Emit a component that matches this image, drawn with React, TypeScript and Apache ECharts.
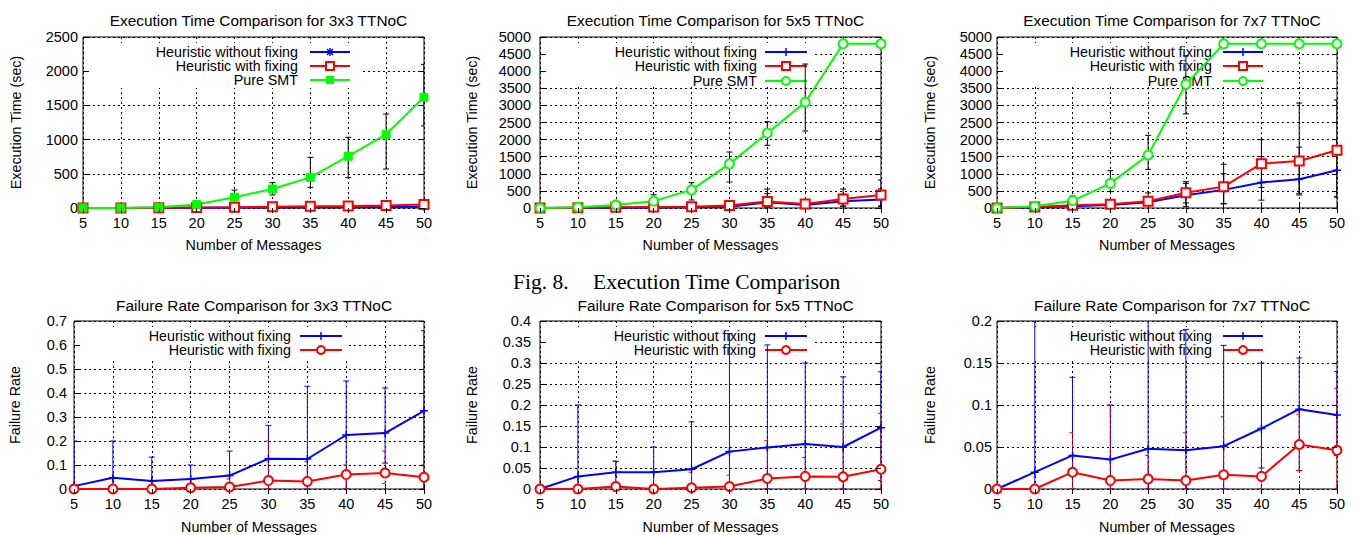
import React, { useEffect, useRef } from "react";
import * as echarts from "echarts";

const FONT = "'Liberation Sans', Arial, Helvetica, sans-serif";
const SERIF = "'Liberation Serif', 'Times New Roman', serif";

const messages = [5, 10, 15, 20, 25, 30, 35, 40, 45, 50];
const nameNoFix = "Heuristic without fixing";
const nameFix = "Heuristic with fixing";
const nameSmt = "Pure SMT";

// Execution time (sec), 3x3
const exec3NoFix = [0, 0, 2, 4, 6, 8, 10, 12, 15, 18];
const exec3Fix = [0, 0, 4, 8, 12, 18, 24, 30, 38, 50];
const exec3Smt = [0, 0, 10, 50, 158, 278, 448, 757, 1078, 1618];
const exec3SmtLow = [null, null, null, 15, 20, 190, 302, 444, 570, 1200];
const exec3SmtHigh = [null, null, null, 100, 262, 370, 741, 1033, 1374, 2100];

// Execution time (sec), 5x5
const exec5NoFix = [0, 5, 10, 15, 20, 40, 165, 90, 200, 250];
const exec5NoFixLow = [null, null, null, null, null, null, 0, null, 40, 40];
const exec5NoFixHigh = [null, null, null, null, null, null, 420, null, 400, 560];
const exec5Fix = [0, 10, 20, 30, 40, 70, 190, 120, 260, 380];
const exec5FixLow = [null, null, null, null, null, null, 0, 0, 60, 60];
const exec5FixHigh = [null, null, null, null, null, null, 555, 250, 555, 820];
const exec5Smt = [0, 20, 90, 200, 530, 1290, 2190, 3090, 4800, 4800];
const exec5SmtLow = [null, null, null, 80, 234, 760, 1833, 2251, null, null];
const exec5SmtHigh = [null, null, null, 390, 740, 1637, 2524, 4210, null, null];

// Execution time (sec), 7x7
const exec7NoFix = [0, 20, 50, 90, 170, 375, 530, 745, 840, 1105];
const exec7NoFixLow = [null, null, null, null, null, 40, 120, 230, 380, 320];
const exec7NoFixHigh = [null, null, null, null, null, 720, 1000, 1500, 1780, 2000];
const exec7Fix = [0, 30, 80, 110, 200, 445, 625, 1295, 1375, 1690];
const exec7FixLow = [null, null, null, 20, 150, 150, 130, 600, 430, 330];
const exec7FixHigh = [null, null, null, 250, 440, 770, 1280, 2000, 3070, 3160];
const exec7Smt = [0, 50, 210, 720, 1550, 3620, 4800, 4800, 4800, 4800];
const exec7SmtLow = [null, null, 100, 480, 1130, 2750, null, null, null, null];
const exec7SmtHigh = [null, null, 350, 1090, 2125, 4450, null, null, null, null];

// Failure rate, 3x3
const fail3NoFix = [0.012, 0.047, 0.033, 0.042, 0.056, 0.126, 0.125, 0.225, 0.233, 0.326];
const fail3NoFixLow = [0, 0, 0, 0, 0, 0, 0, 0, 0.108, 0];
const fail3NoFixHigh = [0.2, 0.2, 0.133, 0.1, 0.158, 0.265, 0.428, 0.45, 0.421, 0.66];
const fail3Fix = [0, 0, 0, 0.005, 0.008, 0.035, 0.031, 0.06, 0.067, 0.049];
const fail3FixLow = [null, null, null, 0, 0, 0, 0, 0, 0.023, 0];
const fail3FixHigh = [null, null, null, 0.04, 0.042, 0.2, 0.115, 0.1, 0.158, 0.1];

// Failure rate, 5x5
const fail5NoFix = [0, 0.03, 0.04, 0.04, 0.047, 0.089, 0.099, 0.107, 0.1, 0.146];
const fail5NoFixLow = [null, 0, 0, 0, 0, 0, 0, 0, 0, 0.02];
const fail5NoFixHigh = [null, 0.2, 0.066, 0.1, 0.16, 0.37, 0.343, 0.3, 0.267, 0.279];
const fail5Fix = [0, 0, 0.006, 0, 0.003, 0.006, 0.025, 0.03, 0.029, 0.047];
const fail5FixLow = [null, null, 0, null, 0, 0, 0, 0, 0, 0];
const fail5FixHigh = [null, null, 0.067, null, 0.04, 0.033, 0.115, 0.075, 0.155, 0.18];

// Failure rate, 7x7
const fail7NoFix = [0, 0.02, 0.04, 0.035, 0.048, 0.046, 0.051, 0.072, 0.095, 0.088];
const fail7NoFixLow = [null, 0, 0, 0, 0, 0, 0, 0.025, 0.022, 0.04];
const fail7NoFixHigh = [null, 0.25, 0.133, 0.1, 0.25, 0.19, 0.171, 0.15, 0.156, 0.14];
const fail7Fix = [0, 0, 0.02, 0.01, 0.012, 0.01, 0.017, 0.015, 0.053, 0.046];
const fail7FixLow = [null, null, 0, 0, 0, 0, 0, 0, 0.022, 0];
const fail7FixHigh = [null, null, 0.067, 0.1, 0.04, 0.067, 0.086, 0.05, 0.089, 0.12];

const BLUE = "#0000ff";
const RED = "#ff0000";
const GREEN = "#00ff00";

type Err = { lo: (number | null)[]; hi: (number | null)[]; color: string; dashed?: boolean };
type SDef = { name: string; values: number[]; color: string; marker: string; err?: Err[] };

const execTitle = "Execution Time Comparison for ";
const failTitle = "Failure Rate Comparison for ";

const TITLE_SIZE = 15.4;
const TEXT_SIZE = 14.3;
const TICK_SIZE = 14.5;

const panels = [
  {
    title: execTitle + "3x3 TTNoC",
    grid: { left: 83, top: 37, width: 341, height: 171 },
    yMax: 2500, yInterval: 500, yName: "Execution Time (sec)", yNameGap: 60, yLabelMargin: 5, titleTop: 8, xNameGap: 30,
    legend: { textRight: 298, x1: 310, x2: 350, rows: [52, 66, 80], boxRight: 360, boxBottom: 88 },
    series: [
      { name: nameNoFix, values: exec3NoFix, color: BLUE, marker: "star" },
      { name: nameFix, values: exec3Fix, color: RED, marker: "emptyRect" },
      { name: nameSmt, values: exec3Smt, color: GREEN, marker: "rect", err: [{ lo: exec3SmtLow, hi: exec3SmtHigh, color: "#000" }] },
    ] as SDef[],
  },
  {
    title: execTitle + "5x5 TTNoC",
    grid: { left: 540, top: 37, width: 341, height: 171 },
    yMax: 5000, yInterval: 500, yName: "Execution Time (sec)", yNameGap: 61, yLabelMargin: 9, titleTop: 8, xNameGap: 30,
    legend: { textRight: 757, x1: 765, x2: 807, rows: [52, 66, 81], boxRight: 812, boxBottom: 87 },
    series: [
      { name: nameNoFix, values: exec5NoFix, color: BLUE, marker: "plus", err: [{ lo: exec5NoFixLow, hi: exec5NoFixHigh, color: "#000" }] },
      { name: nameFix, values: exec5Fix, color: RED, marker: "emptyRect", err: [{ lo: exec5FixLow, hi: exec5FixHigh, color: "#000" }] },
      { name: nameSmt, values: exec5Smt, color: GREEN, marker: "emptyCircle", err: [{ lo: exec5SmtLow, hi: exec5SmtHigh, color: "#000" }] },
    ] as SDef[],
  },
  {
    title: execTitle + "7x7 TTNoC",
    grid: { left: 997, top: 37, width: 340, height: 171 },
    yMax: 5000, yInterval: 500, yName: "Execution Time (sec)", yNameGap: 60, yLabelMargin: 5, titleTop: 8, xNameGap: 30,
    legend: { textRight: 1212, x1: 1223, x2: 1263, rows: [52, 66, 81], boxRight: 1268, boxBottom: 87 },
    series: [
      { name: nameNoFix, values: exec7NoFix, color: BLUE, marker: "plus", err: [{ lo: exec7NoFixLow, hi: exec7NoFixHigh, color: "#000" }] },
      { name: nameFix, values: exec7Fix, color: RED, marker: "emptyRect", err: [{ lo: exec7FixLow, hi: exec7FixHigh, color: "#000" }] },
      { name: nameSmt, values: exec7Smt, color: GREEN, marker: "emptyCircle", err: [{ lo: exec7SmtLow, hi: exec7SmtHigh, color: "#000" }] },
    ] as SDef[],
  },
  {
    title: failTitle + "3x3 TTNoC",
    grid: { left: 74, top: 321, width: 350, height: 171 },
    yMax: 0.7, yInterval: 0.1, yName: "Failure Rate", yNameGap: 52, yLabelMargin: 7, titleTop: 293, xNameGap: 31,
    legend: { textRight: 291, x1: 300, x2: 342, rows: [336, 350], boxRight: 347, boxBottom: 359 },
    series: [
      { name: nameNoFix, values: fail3NoFix, color: BLUE, marker: "plus", err: [{ lo: fail3NoFixLow, hi: fail3NoFixHigh, color: BLUE }] },
      { name: nameFix, values: fail3Fix, color: RED, marker: "emptyCircle", err: [{ lo: fail3FixLow, hi: fail3FixHigh, color: RED, dashed: true }] },
    ] as SDef[],
  },
  {
    title: failTitle + "5x5 TTNoC",
    grid: { left: 540, top: 321, width: 341, height: 171 },
    yMax: 0.4, yInterval: 0.05, yName: "Failure Rate", yNameGap: 61, yLabelMargin: 9, titleTop: 293, xNameGap: 31,
    legend: { textRight: 756, x1: 765, x2: 807, rows: [336, 350], boxRight: 812, boxBottom: 360 },
    series: [
      { name: nameNoFix, values: fail5NoFix, color: BLUE, marker: "plus", err: [{ lo: fail5NoFixLow, hi: fail5NoFixHigh, color: BLUE }] },
      { name: nameFix, values: fail5Fix, color: RED, marker: "emptyCircle", err: [{ lo: fail5FixLow, hi: fail5FixHigh, color: RED, dashed: true }] },
    ] as SDef[],
  },
  {
    title: failTitle + "7x7 TTNoC",
    grid: { left: 997, top: 321, width: 340, height: 171 },
    yMax: 0.2, yInterval: 0.05, yName: "Failure Rate", yNameGap: 60, yLabelMargin: 5, titleTop: 293, xNameGap: 31,
    legend: { textRight: 1212, x1: 1223, x2: 1263, rows: [336, 350], boxRight: 1268, boxBottom: 360 },
    series: [
      { name: nameNoFix, values: fail7NoFix, color: BLUE, marker: "plus", err: [{ lo: fail7NoFixLow, hi: fail7NoFixHigh, color: BLUE }] },
      { name: nameFix, values: fail7Fix, color: RED, marker: "emptyCircle", err: [{ lo: fail7FixLow, hi: fail7FixHigh, color: RED, dashed: true }] },
    ] as SDef[],
  },
];

const PLUS = "path://M0,5L10,5M5,0L5,10";
const STAR = "path://M0,5L10,5M5,0L5,10M1.5,1.5L8.5,8.5M8.5,1.5L1.5,8.5";

function symbolFor(marker: string) {
  switch (marker) {
    case "plus": return { symbol: PLUS, symbolSize: 8, bw: 1.5 };
    case "star": return { symbol: STAR, symbolSize: 8, bw: 1.5 };
    case "rect": return { symbol: "rect", symbolSize: 8, bw: 1 };
    case "emptyRect": return { symbol: "emptyRect", symbolSize: 9, bw: 2 };
    default: return { symbol: "emptyCircle", symbolSize: 9, bw: 2 };
  }
}

function legendMarker(marker: string, cx: number, cy: number, color: string): any[] {
  const ls = { stroke: color, lineWidth: 1.5 };
  switch (marker) {
    case "plus":
      return [
        { type: "line", z: 1, silent: true, shape: { x1: cx - 4, y1: cy, x2: cx + 4, y2: cy }, style: ls },
        { type: "line", z: 1, silent: true, shape: { x1: cx, y1: cy - 4, x2: cx, y2: cy + 4 }, style: ls },
      ];
    case "star":
      return [
        { type: "line", z: 1, silent: true, shape: { x1: cx - 4, y1: cy, x2: cx + 4, y2: cy }, style: ls },
        { type: "line", z: 1, silent: true, shape: { x1: cx, y1: cy - 4, x2: cx, y2: cy + 4 }, style: ls },
        { type: "line", z: 1, silent: true, shape: { x1: cx - 3, y1: cy - 3, x2: cx + 3, y2: cy + 3 }, style: ls },
        { type: "line", z: 1, silent: true, shape: { x1: cx + 3, y1: cy - 3, x2: cx - 3, y2: cy + 3 }, style: ls },
      ];
    case "rect":
      return [{ type: "rect", z: 1, silent: true, shape: { x: cx - 4, y: cy - 4, width: 8, height: 8 }, style: { fill: color } }];
    case "emptyRect":
      return [{ type: "rect", z: 1, silent: true, shape: { x: cx - 4, y: cy - 4, width: 8, height: 8 }, style: { fill: "#fff", stroke: color, lineWidth: 2 } }];
    default:
      return [{ type: "circle", z: 1, silent: true, shape: { cx, cy, r: 4 }, style: { fill: "#fff", stroke: color, lineWidth: 2 } }];
  }
}

const fmtNum = (v: number) => String(+Number(v).toFixed(4));

function buildOption() {
  const grid: any[] = [];
  const xAxis: any[] = [];
  const yAxis: any[] = [];
  const series: any[] = [];
  const title: any[] = [];
  const graphic: any[] = [];
  const black = "#000";

  panels.forEach((p, i) => {
    grid.push({ ...p.grid, show: true, borderColor: black, borderWidth: 1, containLabel: false });
    const tick = { show: true, inside: true, length: 5, lineStyle: { color: black, width: 1 } };
    xAxis.push({
      type: "value", gridIndex: i, min: 5, max: 50, interval: 5, position: "bottom", z: 0,
      name: "Number of Messages", nameLocation: "middle", nameGap: p.xNameGap,
      nameTextStyle: { fontSize: TEXT_SIZE, color: black, fontFamily: FONT },
      axisLine: { show: false }, axisTick: tick,
      axisLabel: { fontSize: TICK_SIZE, color: black, margin: 7, fontFamily: FONT, formatter: fmtNum },
      splitLine: { show: true, lineStyle: { color: black, width: 1, type: [2, 3] } },
    });
    xAxis.push({
      type: "value", gridIndex: i, min: 5, max: 50, interval: 5, position: "top", z: 3,
      axisLine: { show: false }, axisTick: tick, axisLabel: { show: false }, splitLine: { show: false },
    });
    yAxis.push({
      type: "value", gridIndex: i, min: 0, max: p.yMax, interval: p.yInterval, position: "left", z: 0,
      name: p.yName, nameLocation: "middle", nameGap: p.yNameGap, nameRotate: 90,
      nameTextStyle: { fontSize: TEXT_SIZE, color: black, fontFamily: FONT },
      axisLine: { show: false }, axisTick: tick,
      axisLabel: { fontSize: TICK_SIZE, color: black, margin: p.yLabelMargin, fontFamily: FONT, formatter: fmtNum },
      splitLine: { show: true, lineStyle: { color: black, width: 1, type: [2, 3] } },
    });
    yAxis.push({
      type: "value", gridIndex: i, min: 0, max: p.yMax, interval: p.yInterval, position: "right", z: 3,
      axisLine: { show: false }, axisTick: tick, axisLabel: { show: false }, splitLine: { show: false },
    });

    title.push({
      text: p.title, left: p.grid.left + p.grid.width / 2, top: p.titleTop, textAlign: "center",
      textStyle: { fontSize: TITLE_SIZE, fontWeight: "normal", color: black, fontFamily: FONT },
    });

    p.series.forEach((s) => {
      (s.err || []).forEach((e) => {
        const data = messages
          .map((m, k) => (e.lo[k] == null || e.hi[k] == null ? null : [m, e.lo[k], e.hi[k]]))
          .filter((d) => d !== null);
        series.push({
          type: "custom", name: s.name + " error", xAxisIndex: 2 * i, yAxisIndex: 2 * i,
          clip: true, silent: true, z: 2, data, encode: { x: 0, y: [1, 2] },
          renderItem: (params: any, api: any) => {
            const x = api.value(0);
            const a = api.coord([x, api.value(1)]);
            const b = api.coord([x, api.value(2)]);
            const w = 3;
            const style = { stroke: e.color, lineWidth: 1, lineDash: e.dashed ? [3, 3] : null, fill: null };
            return {
              type: "group",
              children: [
                { type: "line", shape: { x1: a[0], y1: a[1], x2: b[0], y2: b[1] }, style },
                { type: "line", shape: { x1: a[0] - w, y1: a[1], x2: a[0] + w, y2: a[1] }, style },
                { type: "line", shape: { x1: b[0] - w, y1: b[1], x2: b[0] + w, y2: b[1] }, style },
              ],
            };
          },
        });
      });
      const sym = symbolFor(s.marker);
      series.push({
        type: "line", name: s.name, xAxisIndex: 2 * i, yAxisIndex: 2 * i, z: 2,
        data: messages.map((m, k) => [m, s.values[k]]),
        symbol: sym.symbol, symbolSize: sym.symbolSize,
        showSymbol: true,
        lineStyle: { color: s.color, width: 2 },
        itemStyle: { color: s.color, borderColor: s.color, borderWidth: sym.bw },
        emphasis: { disabled: true },
      });
    });

    // key with an opaque box hiding the grid
    const L = p.legend;
    graphic.push({
      type: "rect", z: 1, silent: true,
      shape: { x: p.grid.left + 6, y: p.grid.top + 6, width: L.boxRight - p.grid.left - 6, height: L.boxBottom - p.grid.top - 6 },
      style: { fill: "#fff" },
    });
    p.series.forEach((s, k) => {
      const y = L.rows[k];
      graphic.push({
        type: "text", z: 1, silent: true, x: L.textRight, y,
        style: { text: s.name, fontSize: TEXT_SIZE, fontFamily: FONT, fill: black, align: "right", verticalAlign: "middle", textAlign: "right", textVerticalAlign: "middle" },
      });
      graphic.push({
        type: "line", z: 1, silent: true, shape: { x1: L.x1, y1: y, x2: L.x2, y2: y }, style: { stroke: s.color, lineWidth: 2 },
      });
      graphic.push(...legendMarker(s.marker, (L.x1 + L.x2) / 2, y, s.color));
    });
  });

  graphic.push({
    type: "text", z: 5, silent: true, x: 513, y: 282,
    style: { text: "Fig. 8.", fontSize: 21.5, fontFamily: SERIF, fill: "#000", align: "left", verticalAlign: "middle", textAlign: "left", textVerticalAlign: "middle" },
  });
  graphic.push({
    type: "text", z: 5, silent: true, x: 593, y: 282,
    style: { text: "Execution Time Comparison", fontSize: 21.5, fontFamily: SERIF, fill: "#000", align: "left", verticalAlign: "middle", textAlign: "left", textVerticalAlign: "middle" },
  });

  return {
    animation: false,
    backgroundColor: "#fff",
    textStyle: { fontFamily: FONT },
    title, grid, xAxis, yAxis, series, graphic,
  };
}

export default function App() {
  const ref = useRef<HTMLDivElement>(null);
  useEffect(() => {
    if (!ref.current) return;
    const chart = echarts.init(ref.current, undefined, { renderer: "svg" });
    chart.setOption(buildOption() as any);
    return () => chart.dispose();
  }, []);
  return (
    <div
      ref={ref}
      style={{ position: "fixed", left: 0, top: 0, width: 1357, height: 535, background: "#fff" }}
    />
  );
}
